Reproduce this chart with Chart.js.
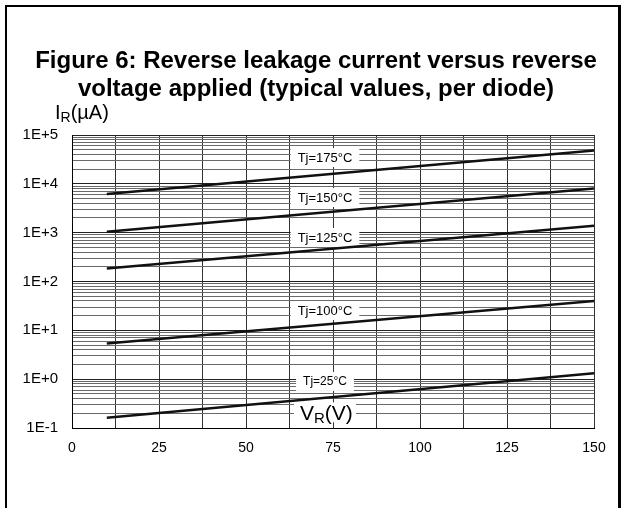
<!DOCTYPE html>
<html>
<head>
<meta charset="utf-8">
<script src="https://cdn.jsdelivr.net/npm/chart.js@4"></script>
<style>
  body { margin: 0; background: #fff; }
  #wrap { width: 621px; height: 508px; }
</style>
</head>
<body>
<div id="wrap"><canvas id="myChart" width="621" height="508"></canvas></div>
<script>
// values (reverse voltage in V, leakage current in µA)
const voltage = [10, 150];
const seriesNames = ['Tj=175°C', 'Tj=150°C', 'Tj=125°C', 'Tj=100°C', 'Tj=25°C'];
const ir175 = [6200, 48000];
const ir150 = [1050, 8000];
const ir125 = [185, 1390];
const ir100 = [5.4, 40];
const ir25 = [0.162, 1.32];

// axes
const xTickLabels = [0, 25, 50, 75, 100, 125, 150];
const yDecades = [0.1, 1, 10, 100, 1000, 10000, 100000];
const yTickLabels = ['1E-1', '1E+0', '1E+1', '1E+2', '1E+3', '1E+4', '1E+5'];

// where the curve names sit (V, µA)
const labelVolt = 72.7;
const labelCurrent = [35400, 5370, 815, 26, 0.92];

const FONT = '"Liberation Sans", Arial, sans-serif';
const allSeries = [ir175, ir150, ir125, ir100, ir25];

const isDecade = v => yDecades.some(d => Math.abs(v - d) / d < 1e-6);

// frame, title, axis names and curve labels
const drawing = {
    id: 'drawing',
    beforeDraw(chart) {
        const c = chart.ctx;
        c.save();
        c.fillStyle = '#fff';
        c.fillRect(0, 0, chart.width, chart.height);
        c.fillStyle = '#000';
        c.fillRect(5, 5, chart.width - 5, 2);
        c.fillRect(5, 5, 2, chart.height - 5);
        c.fillRect(chart.width - 3, 5, 3, chart.height - 5);
        c.restore();
    },
    beforeDatasetsDraw(chart) {
        const c = chart.ctx;
        const xs = chart.scales.x, ys = chart.scales.y;
        const cx = xs.getPixelForValue(labelVolt);
        c.save();
        c.textAlign = 'center';
        c.textBaseline = 'middle';
        seriesNames.forEach((name, i) => {
            const cy = ys.getPixelForValue(labelCurrent[i]);
            c.font = (i == 4 ? '12px ' : '13px ') + FONT;
            const w = c.measureText(name).width + 14;
            c.fillStyle = '#fff';
            c.fillRect(cx - w / 2, cy - 9, w, 19);
            c.fillStyle = '#000';
            c.fillText(name, cx, cy + 1);
        });
        // V_R(V) box
        const vy = ys.getPixelForValue(0.21);
        c.fillStyle = '#fff';
        c.fillRect(cx - 31, vy - 10, 62, 20);
        c.fillStyle = '#000';
        c.textAlign = 'left';
        c.textBaseline = 'alphabetic';
        let x = cx - 25;
        c.font = '21px ' + FONT;
        c.fillText('V', x, vy + 8);
        x += c.measureText('V').width;
        c.font = '15px ' + FONT;
        c.fillText('R', x, vy + 11);
        x += c.measureText('R').width;
        c.font = '21px ' + FONT;
        c.fillText('(V)', x, vy + 8);
        c.restore();
    },
    afterDraw(chart) {
        const c = chart.ctx;
        c.save();
        c.fillStyle = '#000';
        c.textAlign = 'center';
        c.font = 'bold 24px ' + FONT;
        c.fillText('Figure 6: Reverse leakage current versus reverse', 316, 68);
        c.fillText('voltage applied (typical values, per diode)', 316, 96);
        c.textAlign = 'left';
        let x = 55;
        c.font = '20px ' + FONT;
        c.fillText('I', x, 119);
        x += c.measureText('I').width;
        c.font = '14px ' + FONT;
        c.fillText('R', x, 122);
        x += c.measureText('R').width;
        c.font = '20px ' + FONT;
        c.fillText('(µA)', x, 119);
        c.restore();
    }
};

const ctx = document.getElementById('myChart');
new Chart(ctx, {
    type: 'line',
    data: {
        datasets: allSeries.map((s, i) => ({
            label: seriesNames[i],
            data: voltage.map((v, j) => ({ x: v, y: s[j] })),
            borderColor: '#111',
            borderWidth: 2.5,
            pointRadius: 0,
            fill: false
        }))
    },
    options: {
        responsive: false,
        animation: false,
        layout: { padding: { left: 0, right: 27, top: 135, bottom: 50 } },
        plugins: { legend: { display: false }, tooltip: { enabled: false } },
        scales: {
            x: {
                type: 'linear',
                min: 0,
                max: 150,
                afterFit: s => { s.height = 30; },
                ticks: {
                    stepSize: 12.5,
                    autoSkip: false,
                    maxRotation: 0,
                    padding: 12,
                    color: '#000',
                    font: { family: FONT, size: 14 },
                    callback: v => xTickLabels.includes(v) ? String(v) : ''
                },
                grid: { color: '#333', lineWidth: 1, drawTicks: false },
                border: { color: '#000', width: 1 }
            },
            y: {
                type: 'logarithmic',
                min: 0.1,
                max: 100000,
                afterFit: s => { s.width = 72; },
                afterBuildTicks: s => {
                    const t = [];
                    yDecades.forEach((d, i) => {
                        if (i == yDecades.length - 1) { t.push({ value: d }); return; }
                        for (let m = 1; m <= 9; m++) t.push({ value: d * m });
                    });
                    s.ticks = t;
                },
                ticks: {
                    autoSkip: false,
                    padding: 14,
                    color: '#000',
                    font: { family: FONT, size: 15 },
                    callback: v => isDecade(v) ? yTickLabels[yDecades.findIndex(d => Math.abs(v - d) / d < 1e-6)] : ''
                },
                grid: {
                    drawTicks: false,
                    lineWidth: 1,
                    color: c => (c.tick && isDecade(c.tick.value)) ? '#222' : '#6a6a6a'
                },
                border: { color: '#000', width: 1 }
            }
        }
    },
    plugins: [drawing]
});
</script>
</body>
</html>
